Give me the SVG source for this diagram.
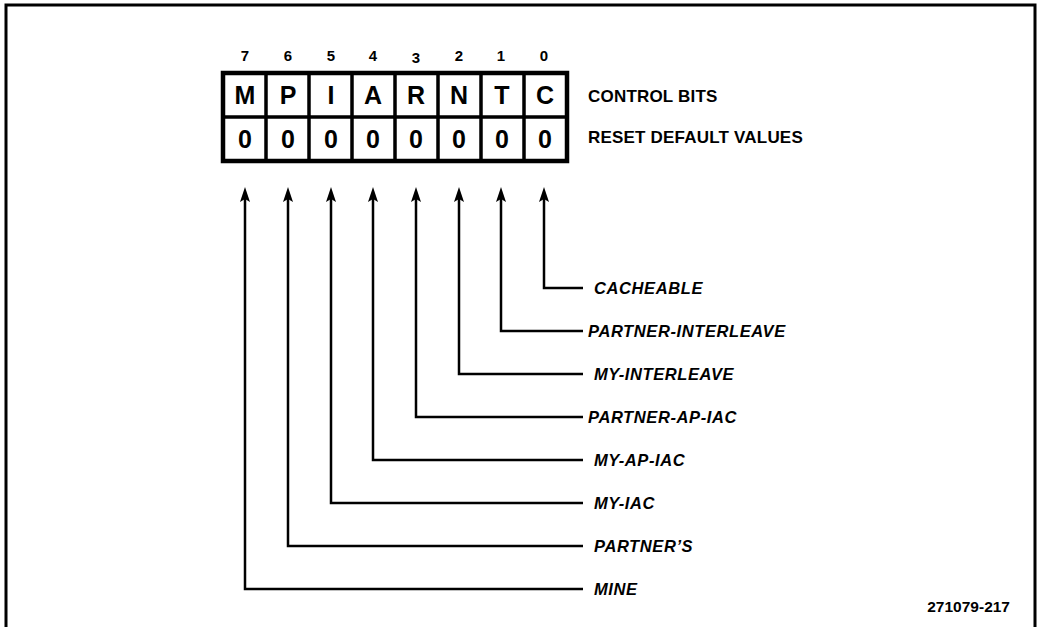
<svg xmlns="http://www.w3.org/2000/svg" width="1039" height="627" viewBox="0 0 1039 627">
<style>
.frame{fill:none;stroke:#000;stroke-width:3}
.big{font-family:"Liberation Sans",Arial,sans-serif;font-weight:bold;font-size:25px;text-anchor:middle}
.num{font-family:"Liberation Sans",Arial,sans-serif;font-weight:bold;font-size:15px;text-anchor:middle}
.hdr{font-family:"Liberation Sans",Arial,sans-serif;font-weight:bold;font-size:17px;letter-spacing:0.2px}
.lbl{font-family:"Liberation Sans",Arial,sans-serif;font-weight:bold;font-style:italic;font-size:16.5px;letter-spacing:0.6px}
.wire{fill:none;stroke:#000;stroke-width:2.5;stroke-linejoin:miter}
.id{font-family:"Liberation Sans",Arial,sans-serif;font-weight:bold;font-size:15.5px;text-anchor:end}
</style>
<defs>
<path id="ah" d="M0,0 L5,15 L0,12 L-5,15 Z" fill="#000"/>
</defs>
<path class="frame" d="M6,627 V5 H1035 V627"/>
<g id="bitnumbers">
<text class="num" x="245" y="61">7</text>
<text class="num" x="288" y="61">6</text>
<text class="num" x="331" y="61">5</text>
<text class="num" x="373" y="61">4</text>
<text class="num" x="416" y="63">3</text>
<text class="num" x="459" y="61">2</text>
<text class="num" x="501" y="61">1</text>
<text class="num" x="544" y="61">0</text>
</g>
<g id="register">
<rect x="223" y="73" width="344" height="88" fill="#fff" stroke="#000" stroke-width="4.5"/>
<path d="M223,117 H567 M266,73 V161 M309,73 V161 M352,73 V161 M395,73 V161 M438,73 V161 M481,73 V161 M524,73 V161" stroke="#000" stroke-width="3.5" fill="none"/>
<text class="big" x="245" y="104">M</text>
<text class="big" x="288" y="104">P</text>
<text class="big" x="331" y="104">I</text>
<text class="big" x="373" y="104">A</text>
<text class="big" x="416" y="104">R</text>
<text class="big" x="459" y="104">N</text>
<text class="big" x="502" y="104">T</text>
<text class="big" x="545" y="104">C</text>
<text class="big" x="245" y="148">0</text>
<text class="big" x="288" y="148">0</text>
<text class="big" x="331" y="148">0</text>
<text class="big" x="373" y="148">0</text>
<text class="big" x="416" y="148">0</text>
<text class="big" x="459" y="148">0</text>
<text class="big" x="502" y="148">0</text>
<text class="big" x="545" y="148">0</text>
</g>
<g id="header-control"><text class="hdr" x="588" y="102">CONTROL BITS</text></g>
<g id="header-reset"><text class="hdr" x="588" y="143">RESET DEFAULT VALUES</text></g>
<g id="connectors">
<path class="wire" d="M544,198 V288 H583"/>
<path class="wire" d="M501,198 V331 H583"/>
<path class="wire" d="M459,198 V374 H583"/>
<path class="wire" d="M416,198 V417 H583"/>
<path class="wire" d="M373,198 V460 H583"/>
<path class="wire" d="M331,198 V503 H583"/>
<path class="wire" d="M288,198 V546 H583"/>
<path class="wire" d="M245,198 V589 H583"/>
<use href="#ah" x="544" y="187"/>
<use href="#ah" x="501" y="187"/>
<use href="#ah" x="459" y="187"/>
<use href="#ah" x="416" y="187"/>
<use href="#ah" x="373" y="187"/>
<use href="#ah" x="331" y="187"/>
<use href="#ah" x="288" y="187"/>
<use href="#ah" x="245" y="187"/>
</g>
<g id="label-cacheable"><text class="lbl" x="594" y="294">CACHEABLE</text></g>
<g id="label-partner-interleave"><text class="lbl" x="588" y="337">PARTNER-INTERLEAVE</text></g>
<g id="label-my-interleave"><text class="lbl" x="594" y="380">MY-INTERLEAVE</text></g>
<g id="label-partner-ap-iac"><text class="lbl" x="588" y="423">PARTNER-AP-IAC</text></g>
<g id="label-my-ap-iac"><text class="lbl" x="594" y="466">MY-AP-IAC</text></g>
<g id="label-my-iac"><text class="lbl" x="594" y="509">MY-IAC</text></g>
<g id="label-partners"><text class="lbl" x="594" y="552">PARTNER’S</text></g>
<g id="label-mine"><text class="lbl" x="594" y="595">MINE</text></g>
<g id="figure-id"><text class="id" x="1010" y="612">271079-217</text></g>
</svg>
